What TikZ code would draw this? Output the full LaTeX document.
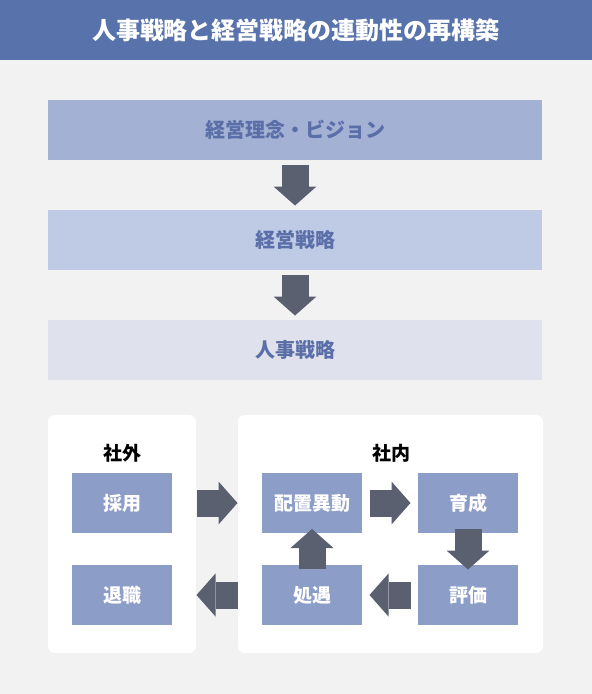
\documentclass[tikz,border=0pt]{standalone}
\usepackage{fontspec}
\setmainfont{Noto Sans CJK JP}
\usetikzlibrary{arrows.meta,calc}
\definecolor{bgc}{HTML}{F2F2F2}
\definecolor{titlec}{HTML}{5872AB}
\definecolor{boxa}{HTML}{A3B1D4}
\definecolor{boxb}{HTML}{BFCAE4}
\definecolor{boxc}{HTML}{DFE2EC}
\definecolor{txtc}{HTML}{5A6EA8}
\definecolor{smallc}{HTML}{8C9DC8}
\definecolor{arrc}{HTML}{5A6070}
\begin{document}
\begin{tikzpicture}[x=1pt,y=-1pt,
  wide/.style={minimum width=494pt,minimum height=60pt,inner sep=0pt,outer sep=0pt,text=txtc,font=\fontsize{20pt}{24pt}\selectfont\bfseries},
  panel/.style={fill=white,rounded corners=7pt,minimum height=238pt,inner sep=0pt,outer sep=0pt},
  small/.style={fill=smallc,minimum width=100pt,minimum height=60pt,inner sep=0pt,outer sep=0pt,text=white,font=\fontsize{19pt}{23pt}\selectfont\bfseries},
  lab/.style={text=black,font=\fontsize{19pt}{23pt}\selectfont\bfseries,inner sep=0pt},
  blk/.style={draw=arrc,line width=27pt,-{Triangle[length=19pt,width=43pt,line width=0pt]}}
]
\fill[bgc] (0,0) rectangle (592,694);
\useasboundingbox (0,0) rectangle (592,694);
\fill[titlec] (0,0) rectangle (592,60);
\node[text=white,font=\fontsize{24pt}{28pt}\selectfont\bfseries] (t) at (296,30) {人事戦略と経営戦略の連動性の再構築};

\node[wide,fill=boxa] (b1) at (295,130) {経営理念・ビジョン};
\node[wide,fill=boxb] (b2) at (295,240) {経営戦略};
\node[wide,fill=boxc] (b3) at (295,350) {人事戦略};

\draw[blk] ($(b1.south)!0.5!(b2.north)+(0,-20.5)$) -- +(0,41);
\draw[blk] ($(b2.south)!0.5!(b3.north)+(0,-20.5)$) -- +(0,41);

\node[panel,minimum width=148pt] (pl) at (122,534) {};
\node[panel,minimum width=305pt] (pr) at (390.5,534) {};
\node[lab] (l1) at (122,453) {社外};
\node[lab] (l2) at (391,453) {社内};

\node[small] (saiyo) at (122,503) {採用};
\node[small] (taishoku) at (122,595) {退職};
\node[small] (haichi) at (312,503) {配置異動};
\node[small] (ikusei) at (468,503) {育成};
\node[small] (shogu) at (312,595) {処遇};
\node[small] (hyoka) at (468,595) {評価};

\draw[blk] ($(pl.east |- saiyo)!0.5!(pr.west |- saiyo)+(-20.5,0)$) -- +(41,0);
\draw[blk] ($(haichi.east)!0.5!(ikusei.west)+(-20.5,0)$) -- +(41,0);
\draw[blk] ($(ikusei.south)!0.5!(hyoka.north)+(0,-20.5)$) -- +(0,41);
\draw[blk] ($(hyoka.west)!0.5!(shogu.east)+(20.5,0)$) -- +(-41,0);
\draw[blk] ($(pl.east |- shogu)!0.5!(pr.west |- shogu)+(20.5,0)$) -- +(-41,0);
\draw[blk] ($(shogu.north)!0.5!(haichi.south)+(0,20)$) -- +(0,-40);
\end{tikzpicture}
\end{document}
